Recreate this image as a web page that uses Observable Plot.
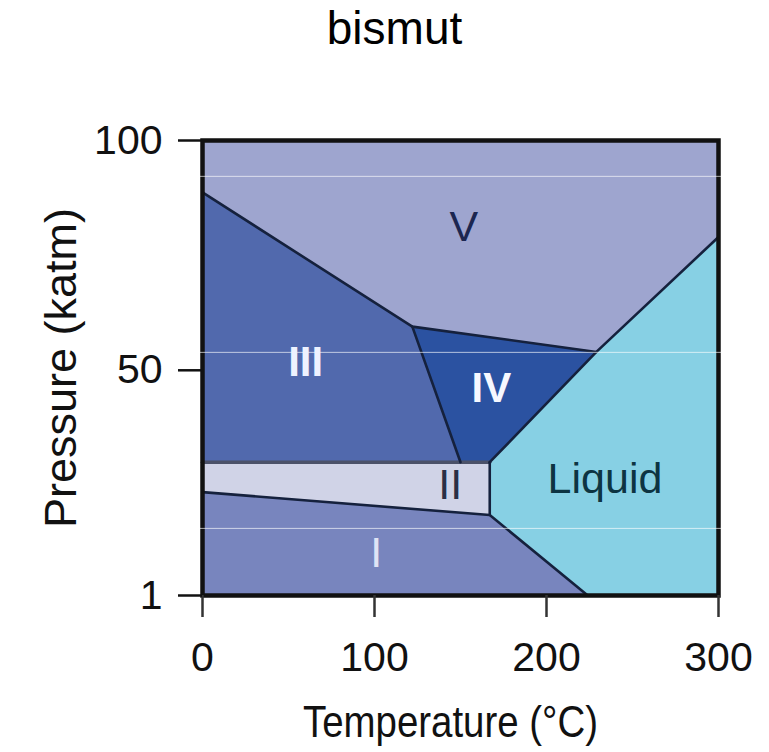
<!DOCTYPE html>
<html><head><meta charset="utf-8">
<script src="https://cdn.jsdelivr.net/npm/d3@7"></script>
<script src="https://cdn.jsdelivr.net/npm/@observablehq/plot@0.6"></script>
<style>
html,body{margin:0;padding:0;background:#fff;}
#wrap{width:769px;height:752px;position:relative;overflow:hidden;font-family:"Liberation Sans",Arial,Helvetica,sans-serif;}
#title{position:absolute;left:0;top:0;width:769px;height:70px;}
#title span{position:absolute;left:394.5px;top:5px;transform:translateX(-50%);font-size:46px;line-height:46px;color:#000;white-space:nowrap;}
#chart{position:absolute;left:0;top:70px;}
</style></head>
<body><div id="wrap"><div id="title"><span id="titleText"></span></div><div id="chart"></div></div>
<script>
const title = "bismut";
const xLabel = "Temperature (°C)";
const yLabel = "Pressure (katm)";
const xTicks = [0, 100, 200, 300];
const yTicks = [1, 50, 100];
const xDomain = [0, 300];
const yDomain = [1, 100];

// key points of the phase boundaries: [temperature °C, pressure katm]
const cornerTopLeft = [0, 100];
const cornerTopRight = [300, 100];
const cornerBottomRight = [300, 1];
const cornerBottomLeft = [0, 1];
const ptV_III_left = [0, 88.7];
const ptIII_IV_V = [122, 59.5];
const ptIV_V_liquid = [229, 54];
const ptV_liquid_right = [300, 79];
const ptII_IV_liquid = [167, 30];
const ptII_III_IV = [150, 30];
const ptII_III_left = [0, 30];
const ptI_II_liquid = [167, 18.5];
const ptI_II_left = [0, 23.5];
const ptI_liquid_bottom = [224, 1];

const phases = ["V", "III", "IV", "II", "I", "Liquid"];
const phaseColors = ["#9ea5cf", "#5169ad", "#2b52a1", "#d0d3e7", "#7885be", "#87d0e4"];
const phaseOutlines = [
  [cornerTopLeft, cornerTopRight, ptV_liquid_right, ptIV_V_liquid, ptIII_IV_V, ptV_III_left],
  [ptV_III_left, ptIII_IV_V, ptII_III_IV, ptII_III_left],
  [ptIII_IV_V, ptIV_V_liquid, ptII_IV_liquid, ptII_III_IV],
  [ptII_III_left, ptII_IV_liquid, ptI_II_liquid, ptI_II_left],
  [ptI_II_left, ptI_II_liquid, ptI_liquid_bottom, cornerBottomLeft],
  [ptII_IV_liquid, ptIV_V_liquid, ptV_liquid_right, cornerBottomRight, ptI_liquid_bottom, ptI_II_liquid]
];

const darkBoundaries = [
  [ptV_III_left, ptIII_IV_V, ptIV_V_liquid],
  [ptIII_IV_V, ptII_III_IV],
  [ptII_IV_liquid, ptIV_V_liquid, ptV_liquid_right],
  [ptII_IV_liquid, ptI_II_liquid],
  [ptI_II_left, ptI_II_liquid, ptI_liquid_bottom]
];
const greyBoundaries = [
  [ptII_III_left, ptII_IV_liquid]
];

const labelTexts = ["V", "III", "IV", "II", "I", "Liquid"];
const labelT = [152, 60, 168, 144, 101, 234];
const labelP = [81.2, 51.6, 46, 25, 10.2, 26.2];
const labelColors = ["#1c2650", "#eef2ff", "#f6f8ff", "#2a2f45", "#dfe3f5", "#0d3442"];
const labelWeights = ["normal", "bold", "bold", "normal", "normal", "normal"];

// faint white scan lines visible across the picture (pressure values)
const scanLines = [92.2, 53.9, 15.6];

document.getElementById("titleText").textContent = title;

const regionRows = phaseOutlines.flatMap((pts, i) => pts.map(([t, p]) => ({phase: phases[i], color: phaseColors[i], t, p})));
const darkRows = darkBoundaries.flatMap((pts, i) => pts.map(([t, p]) => ({seg: i, t, p})));
const greyRows = greyBoundaries.flatMap((pts, i) => pts.map(([t, p]) => ({seg: i, t, p})));
const labelRows = labelTexts.map((s, i) => ({s, t: labelT[i], p: labelP[i], c: labelColors[i], w: labelWeights[i]}));

const chart = Plot.plot({
  width: 769,
  height: 682,
  marginLeft: 202,
  marginRight: 51,
  marginTop: 70,
  marginBottom: 157,
  x: {domain: xDomain},
  y: {domain: yDomain},
  color: {type: "identity"},
  style: {fontFamily: "Liberation Sans, Arial, Helvetica, sans-serif", color: "#111", background: "transparent", overflow: "visible"},
  marks: [
    Plot.line(regionRows, {x: "t", y: "p", z: "phase", fill: "color", stroke: "color", strokeWidth: 0.8}),
    Plot.line(greyRows, {x: "t", y: "p", z: "seg", stroke: "#4b5169", strokeWidth: 3.5}),
    Plot.line(darkRows, {x: "t", y: "p", z: "seg", stroke: "#15213d", strokeWidth: 2.6, strokeLinejoin: "round"}),
    Plot.frame({stroke: "#111", strokeWidth: 4.5}),
    Plot.ruleY(scanLines, {x1: -2, x2: 303, stroke: "white", strokeOpacity: 0.65, strokeWidth: 1}),
    Plot.text(labelRows.filter(d => d.w === "normal"), {x: "t", y: "p", text: "s", fill: "c", fontSize: 43}),
    Plot.text(labelRows.filter(d => d.w === "bold"), {x: "t", y: "p", text: "s", fill: "c", fontSize: 42, fontWeight: "bold"}),
    Plot.axisX({ticks: xTicks, tickSize: 22, tickPadding: 24, fontSize: 41, stroke: "#333", fill: "#111", strokeWidth: 2.5, label: null}),
    Plot.axisY({ticks: yTicks, tickSize: 24, tickPadding: 16, fontSize: 41, stroke: "#111", fill: "#111", strokeWidth: 2.5, label: null}),
    Plot.text([xLabel], {text: d => d, frameAnchor: "bottom", textAnchor: "middle", lineAnchor: "middle", dx: -10, dy: 127, fontSize: 44, fill: "#111"}),
    Plot.text([yLabel], {text: d => d, frameAnchor: "left", textAnchor: "middle", lineAnchor: "middle", dx: -141, rotate: -90, fontSize: 45, fill: "#111"})
  ]
});
document.getElementById("chart").appendChild(chart);
for (const el of chart.querySelectorAll("text")) {
  if (el.textContent === xLabel) {
    el.setAttribute("textLength", "295");
    el.setAttribute("lengthAdjust", "spacingAndGlyphs");
  }
}
</script>
</body></html>
